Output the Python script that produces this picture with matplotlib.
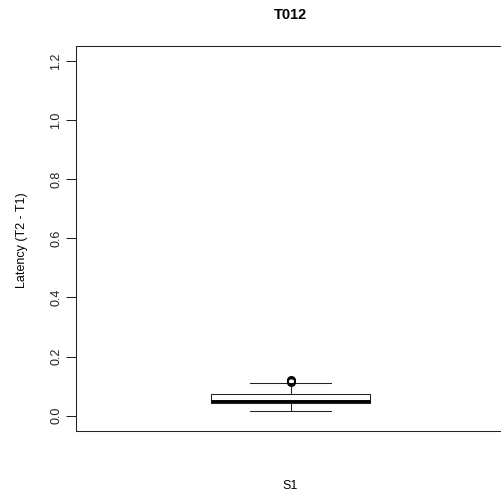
import matplotlib
matplotlib.use("Agg")
import matplotlib.pyplot as plt

plt.rcParams['font.family'] = ['Liberation Sans', 'DejaVu Sans']

# box statistics for group S1
group = "S1"
q1 = 0.042
med = 0.051
q3 = 0.072
whis_lo = 0.017
whis_hi = 0.112
outliers = [0.114, 0.117, 0.120]
yticks = [0.0, 0.2, 0.4, 0.6, 0.8, 1.0, 1.2]

fig = plt.figure(figsize=(5.02, 5.01), dpi=100)
ax = fig.add_axes([76 / 502, 70 / 501, 429 / 502, 385 / 501])

stats = [dict(med=med, q1=q1, q3=q3, whislo=whis_lo, whishi=whis_hi,
              fliers=outliers, label=group)]
ax.bxp(stats, positions=[1], widths=0.37, capwidths=0.19,
       boxprops=dict(color='#222222', linewidth=0.75),
       medianprops=dict(color='black', linewidth=2.1, solid_capstyle='butt'),
       whiskerprops=dict(color='#222222', linewidth=0.75, linestyle='-'),
       capprops=dict(color='#222222', linewidth=0.75),
       flierprops=dict(marker='o', markerfacecolor='none', markeredgecolor='black',
                       markersize=5.5, markeredgewidth=1.0))

ax.set_xlim(0.5, 1.5)
ax.set_ylim(-0.052, 1.251)
ax.set_xticks([])
ax.set_yticks(yticks)
ax.set_yticklabels([f"{v:.1f}" for v in yticks], rotation=90, va='center',
                   fontsize=9, color='#222222')
ax.tick_params(axis='y', length=7, width=0.75, pad=3, color='#222222')
for s in ax.spines.values():
    s.set_linewidth(0.75)
    s.set_color('#222222')

fig.text(290 / 502, 1 - 15 / 501, "T012", ha='center', va='center',
         fontsize=10.5, fontweight='bold')
fig.text(290 / 502, 1 - 486 / 501, group, ha='center', va='center', fontsize=9)
fig.text(22 / 502, 1 - 240 / 501, "Latency (T2 - T1)", ha='center', va='center',
         rotation=90, fontsize=9)

fig.savefig("out.png", dpi=100)
